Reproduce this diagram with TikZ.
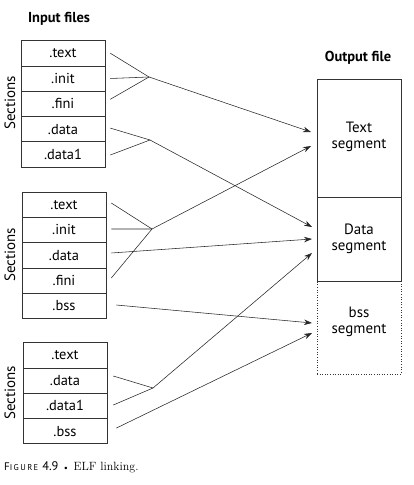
\documentclass[tikz,border=0pt]{standalone}
\usepackage{fontspec}
\newfontfamily\lab{PT Sans}
\usetikzlibrary{arrows.meta}
\begin{document}
\begin{tikzpicture}[x=1bp,y=-1bp,
  sec/.style={draw=black!80,line width=0.6bp,minimum width=84bp,minimum height=25.3bp,inner sep=0pt,font=\lab\fontsize{14.5}{14.5}\selectfont},
  seg/.style={draw=black!80,line width=0.6bp,minimum width=84bp,inner sep=0pt},
  segtxt/.style={align=center,font=\lab\fontsize{15}{16}\selectfont,inner sep=0pt},
  head/.style={font=\lab\bfseries\fontsize{14.5}{14.5}\selectfont,inner sep=0pt},
  side/.style={rotate=90,font=\lab\fontsize{15}{15}\selectfont,inner sep=0pt},
  ln/.style={line width=0.55bp,black!85},
  arr/.style={ln,-{Stealth[length=8bp,width=5.5bp]}}]
\useasboundingbox (0,0) rectangle (413,485);
% headings
\node[head] (inp) at (59,19) {Input files};
\node[head] (outp) at (358,58) {Output file};
% group 1
\node[sec] (a1) at (63,53.2) {.text};
\node[sec] (a2) at (63,78.5) {.init};
\node[sec] (a3) at (63,103.8) {.fini};
\node[sec] (a4) at (63,129.1) {.data};
\node[sec] (a5) at (63,154.4) {.data1};
\node[side] (s1) at (10,103) {Sections};
% group 2
\node[sec] (b1) at (64,204.6) {.text};
\node[sec] (b2) at (64,229.9) {.init};
\node[sec] (b3) at (64,255.2) {.data};
\node[sec] (b4) at (64,280.5) {.fini};
\node[sec] (b5) at (64,305.8) {.bss};
\node[side] (s2) at (10,255) {Sections};
% group 3
\node[sec] (c1) at (65,355.2) {.text};
\node[sec] (c2) at (65,380.5) {.data};
\node[sec] (c3) at (65,405.8) {.data1};
\node[sec] (c4) at (65,431.1) {.bss};
\node[side] (s3) at (10,393) {Sections};
% output file
\node[seg,minimum height=93bp,dotted] (bss) at (359,327.5) {};
\node[seg,minimum height=118bp] (tseg) at (359,138) {};
\node[seg,minimum height=84bp] (dseg) at (359,239) {};
\node[segtxt] (tl) at (359,137) {Text\\segment};
\node[segtxt] (dl) at (359,239) {Data\\segment};
\node[segtxt] (bl) at (359,322) {bss\\segment};
% convergence points and arrow tips
\coordinate (m1) at (149,77);
\coordinate (m2) at (150,140);
\coordinate (m3) at (152,229);
\coordinate (m4) at (153,388);
\coordinate (t1) at (311,132);
\coordinate (t2) at (311,146);
\coordinate (d1) at (312,227);
\coordinate (d2) at (312,239);
\coordinate (d3) at (312,253);
\coordinate (e1) at (312,323);
\coordinate (e2) at (312,333);
% group 1 connectors
\draw[ln] ([xshift=5bp,yshift=0bp]a1.east) -- (m1);
\draw[ln] ([xshift=5bp]a2.east) -- (m1);
\draw[ln] ([xshift=5bp,yshift=4.5bp]a3.east) -- (m1);
\draw[arr] (m1) -- (t1);
\draw[ln] ([xshift=5bp,yshift=1bp]a4.east) -- (m2);
\draw[ln] ([xshift=5bp,yshift=-0.6bp]a5.east) -- (m2);
\draw[arr] (m2) -- (d1);
% group 2 connectors
\draw[ln] ([xshift=5bp,yshift=1.6bp]b1.east) -- (m3);
\draw[ln] ([xshift=5bp,yshift=0.9bp]b2.east) -- (m3);
\draw[ln] ([xshift=5bp,yshift=2.5bp]b4.east) -- (m3);
\draw[arr] (m3) -- (t2);
\draw[arr] ([xshift=5bp,yshift=2.2bp]b3.east) -- (d2);
\draw[arr] ([xshift=10bp,yshift=0.8bp]b5.east) -- (e1);
% group 3 connectors
\draw[ln] ([xshift=6bp,yshift=4.5bp]c2.east) -- (m4);
\draw[ln] ([xshift=6bp,yshift=0.8bp]c3.east) -- (m4);
\draw[arr] (m4) -- (d3);
\draw[arr] ([xshift=9bp,yshift=3bp]c4.east) -- (e2);
% caption
\node[anchor=west,inner sep=0pt] (cap) at (4,467) {{\lab\fontsize{11}{10}\selectfont F\fontsize{8.5}{8}\selectfont I\,G\,U\,R\,E}\hspace{4bp}{\lab\fontsize{12.5}{12}\selectfont 4.9}\hspace{4bp}{\fontsize{9}{9}\selectfont\textbullet}\hspace{4bp}{\fontsize{12}{12}\selectfont ELF linking.}};
\end{tikzpicture}
\end{document}
